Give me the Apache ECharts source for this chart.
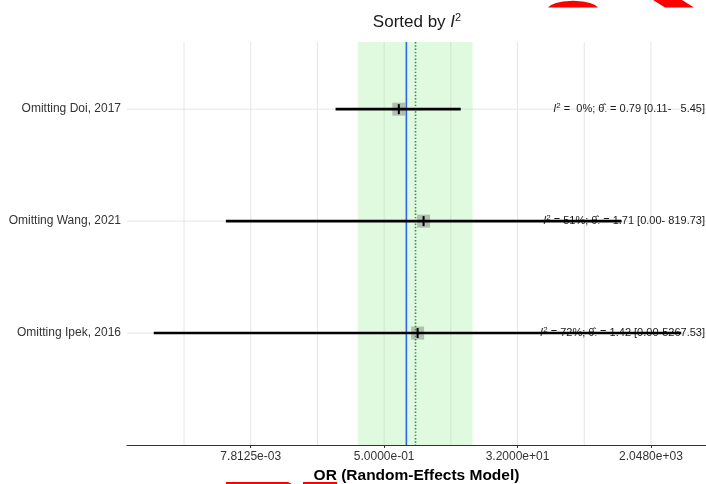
<!DOCTYPE html>
<html>
<head>
<meta charset="utf-8">
<script src="https://cdn.jsdelivr.net/npm/echarts@6/dist/echarts.min.js"></script>
<style>
  html, body { margin: 0; padding: 0; background: #ffffff; }
  #chart { width: 706px; height: 484px; }
</style>
</head>
<body>
<div id="chart"></div>
<script>
// Leave-one-out results, sorted by heterogeneity (I^2)
const studies = ['Omitting Doi, 2017', 'Omitting Wang, 2021', 'Omitting Ipek, 2016'];
const i2Values = [0, 51, 72];
const orEstimates = [0.79, 1.71, 1.42];
const ciLower = [0.11, 0.0036, 0.00038];
const ciUpper = [5.45, 819.73, 5267.53];

// Pooled random-effects estimate with its interval, and the line of no effect
const pooledOR = 1.33;
const pooledCI = [0.22, 7.9];
const nullOR = 1;

// Axis ticks (log2 scale, every 2^6) and the gridlines halfway between them
const majorTicks = [0.0078125, 0.5, 32, 2048];
const minorTicks = [0.0009765625, 0.0625, 4, 256];
const xRange = [0.000165, 11400];
const yRange = [0, 3.6];

const FONT = "'Liberation Sans', Arial, Helvetica, sans-serif";

function sciLabel(v) {
  const s = Number(v).toExponential(4);
  return s.replace(/e([+-])(\d+)$/, function (m, sign, d) {
    return 'e' + sign + (d.length < 2 ? '0' + d : d);
  });
}

function rowLabel(i) {
  const pct = String(i2Values[i]).padStart(2, ' ');
  const hi = ciUpper[i].toFixed(2).padStart(7, ' ');
  return '{it|I}{sup|2}{n| = ' + pct + '%; }{th|\u03B8\u0302}{sub|\u00B7}{n| = ' +
    orEstimates[i].toFixed(2) + ' [' + ciLower[i].toFixed(2) + '-' + hi + ']}';
}

const rowRich = {
  it: { fontSize: 11, fontStyle: 'italic', fontFamily: FONT, fill: '#1a1a1a', lineHeight: 14 },
  sup: { fontSize: 8, fontFamily: FONT, fill: '#1a1a1a', lineHeight: 8, verticalAlign: 'top' },
  n: { fontSize: 11, fontFamily: FONT, fill: '#1a1a1a', lineHeight: 14 },
  th: { fontSize: 11, fontFamily: FONT, fill: '#1a1a1a', lineHeight: 14 },
  sub: { fontSize: 8, fontFamily: FONT, fill: '#1a1a1a', lineHeight: 8, verticalAlign: 'bottom' }
};

const rowData = studies.map(function (name, i) {
  return [ciLower[i], orEstimates[i], ciUpper[i], studies.length - i, i];
});

const chart = echarts.init(document.getElementById('chart'), null, { renderer: 'canvas' });

chart.setOption({
  animation: false,
  backgroundColor: '#ffffff',
  grid: { left: 127, right: 0, top: 42, bottom: 39, containLabel: false, outerBoundsMode: 'none' },
  xAxis: {
    type: 'log',
    logBase: 2,
    min: xRange[0],
    max: xRange[1],
    name: 'OR (Random-Effects Model)',
    nameLocation: 'middle',
    nameGap: 19,
    nameTextStyle: { fontFamily: FONT, fontSize: 15.5, fontWeight: 'bold', color: '#000000' },
    axisLine: { show: true, lineStyle: { color: '#333333', width: 1.2 } },
    axisTick: { show: true, length: 3, customValues: majorTicks, lineStyle: { color: '#333333', width: 1 } },
    axisLabel: {
      customValues: majorTicks,
      margin: 6,
      fontFamily: FONT,
      fontSize: 12,
      color: '#333333',
      formatter: sciLabel
    },
    splitLine: { show: false },
    minorTick: { show: false },
    minorSplitLine: { show: false }
  },
  yAxis: {
    type: 'value',
    min: yRange[0],
    max: yRange[1],
    interval: 1,
    axisLine: { show: false },
    axisTick: { show: false },
    splitLine: { show: false },
    axisLabel: {
      margin: 6,
      fontFamily: FONT,
      fontSize: 12,
      color: '#333333',
      formatter: function (v) {
        const idx = studies.length - v;
        return (Number.isInteger(idx) && idx >= 0 && idx < studies.length) ? studies[idx] : '';
      }
    }
  },
  series: [
    {
      // vertical gridlines
      type: 'custom',
      name: 'xgrid',
      z: 0,
      silent: true,
      data: minorTicks.concat(majorTicks).map(function (v) { return [v, 0]; }),
      encode: { x: 0, y: 1 },
      renderItem: function (params, api) {
        const cs = params.coordSys;
        const x = api.coord([api.value(0), yRange[0]])[0];
        return {
          type: 'line',
          shape: { x1: x, y1: cs.y, x2: x, y2: cs.y + cs.height },
          style: { stroke: '#e6e6e6', lineWidth: 1 }
        };
      }
    },
    {
      // horizontal gridlines at each study row
      type: 'custom',
      name: 'ygrid',
      z: 0,
      silent: true,
      data: studies.map(function (s, i) { return [nullOR, studies.length - i]; }),
      encode: { x: 0, y: 1 },
      renderItem: function (params, api) {
        const cs = params.coordSys;
        const y = api.coord([nullOR, api.value(1)])[1];
        return {
          type: 'line',
          shape: { x1: cs.x, y1: y, x2: cs.x + cs.width, y2: y },
          style: { stroke: '#e6e6e6', lineWidth: 1 }
        };
      }
    },
    {
      // pooled interval band, null line and pooled estimate
      type: 'custom',
      name: 'pooled',
      z: 1,
      silent: true,
      data: [[pooledCI[0], pooledOR, pooledCI[1], nullOR]],
      encode: { x: [0, 1, 2, 3] },
      renderItem: function (params, api) {
        const top = api.coord([pooledOR, yRange[1]])[1];
        const bottom = api.coord([pooledOR, yRange[0]])[1];
        const xL = api.coord([api.value(0), yRange[0]])[0];
        const xE = api.coord([api.value(1), yRange[0]])[0];
        const xH = api.coord([api.value(2), yRange[0]])[0];
        const xN = api.coord([api.value(3), yRange[0]])[0];
        return {
          type: 'group',
          children: [
            {
              type: 'rect',
              shape: { x: xL, y: top, width: xH - xL, height: bottom - top },
              style: { fill: 'rgba(144, 238, 144, 0.28)' }
            },
            {
              type: 'line',
              shape: { x1: xN, y1: top, x2: xN, y2: bottom },
              style: { stroke: '#2a66f2', lineWidth: 1.6 }
            },
            {
              type: 'line',
              shape: { x1: xE, y1: top, x2: xE, y2: bottom },
              style: { stroke: '#2f8f3f', lineWidth: 1.6, lineDash: [1.4, 1.9] }
            }
          ]
        };
      }
    },
    {
      // leave-one-out estimates with their intervals
      type: 'custom',
      name: 'studies',
      z: 3,
      silent: true,
      data: rowData,
      encode: { x: [0, 1, 2], y: 3 },
      renderItem: function (params, api) {
        const cs = params.coordSys;
        const y = api.value(3);
        const i = api.value(4);
        const pLo = api.coord([api.value(0), y]);
        const pEst = api.coord([api.value(1), y]);
        const pHi = api.coord([api.value(2), y]);
        return {
          type: 'group',
          children: [
            {
              type: 'text',
              style: {
                text: rowLabel(i),
                rich: rowRich,
                x: cs.x + cs.width - 1,
                y: pEst[1],
                align: 'right',
                verticalAlign: 'middle',
                fontFamily: FONT,
                fontSize: 11,
                fill: '#1a1a1a'
              }
            },
            {
              type: 'rect',
              shape: { x: pEst[0] - 6.5, y: pEst[1] - 6.5, width: 13, height: 13 },
              style: { fill: 'rgba(120, 120, 120, 0.45)' }
            },
            {
              type: 'line',
              shape: { x1: pLo[0], y1: pLo[1], x2: pHi[0], y2: pHi[1] },
              style: { stroke: '#000000', lineWidth: 2.6 }
            },
            {
              type: 'line',
              shape: { x1: pEst[0], y1: pEst[1] - 5, x2: pEst[0], y2: pEst[1] + 5 },
              style: { stroke: '#000000', lineWidth: 2 }
            }
          ]
        };
      }
    }
  ],
  graphic: [
    {
      type: 'text',
      x: 417,
      y: 22,
      silent: true,
      style: {
        text: '{a|Sorted by }{b|I}{c|2}',
        align: 'center',
        verticalAlign: 'middle',
        rich: {
          a: { fontSize: 17, fontFamily: FONT, fill: '#1a1a1a', lineHeight: 20 },
          b: { fontSize: 17, fontFamily: FONT, fontStyle: 'italic', fill: '#1a1a1a', lineHeight: 20 },
          c: { fontSize: 11, fontFamily: FONT, fill: '#1a1a1a', lineHeight: 11, verticalAlign: 'top' }
        }
      }
    },
    {
      type: 'polygon',
      silent: true,
      shape: { points: [[548, 7.5], [551, 5], [556, 3], [563, 1.5], [573, 0.8], [583, 1.5], [590, 3], [595, 5], [598, 7.5]] },
      style: { fill: '#ff0000' }
    },
    {
      type: 'polygon',
      silent: true,
      shape: { points: [[653, 0], [682, 0], [694, 7.5], [665, 7.5]] },
      style: { fill: '#ff0000' }
    },
    {
      type: 'polygon',
      silent: true,
      shape: { points: [[226, 482], [288, 482], [292, 484], [226, 484]] },
      style: { fill: '#ff0000' }
    },
    {
      type: 'polygon',
      silent: true,
      shape: { points: [[303, 482], [337, 482], [337, 484], [303, 484]] },
      style: { fill: '#ff0000' }
    }
  ]
});
</script>
</body>
</html>
